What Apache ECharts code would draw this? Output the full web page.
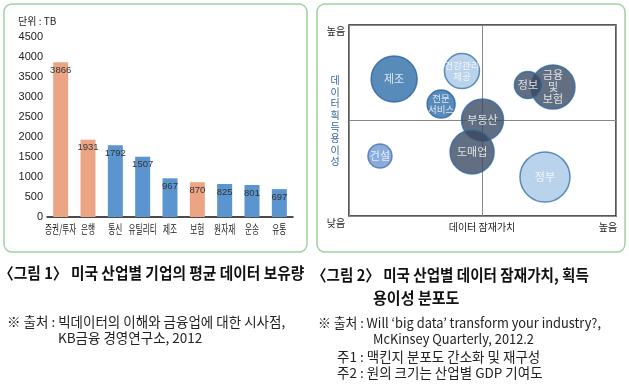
<!DOCTYPE html>
<html>
<head>
<meta charset="utf-8">
<script src="https://cdn.jsdelivr.net/npm/echarts@6/dist/echarts.min.js"></script>
<style>
html,body{margin:0;padding:0;background:#fff;}
#c{width:629px;height:385px;}
</style>
</head>
<body>
<div id="c"></div>
<script>
// ---- Figure 1 data ----
var categories = ['증권/투자','은행','통신','유틸리티','제조','보험','원자재','운송','유통'];
var values = [3866,1931,1792,1507,967,870,825,801,697];
var highlightIdx = [0,1,5]; // orange bars
var yTicks = {min:0, max:4500, interval:500};

// ---- Figure 2 data ----
var bubbleNames = ['제조','건강관리\n제공','전문\n서비스','부동산','도매업','금융\n및\n보험','정보','건설','정부'];
var bubbleX = [1.69,4.23,3.45,5.0,4.61,7.64,6.70,1.16,7.34];   // 데이터 잠재가치
var bubbleY = [7.17,7.59,5.86,5.03,3.35,6.75,6.86,3.14,2.04];  // 데이터 획득 용이성
var bubbleGDP = [46,35,28,42,44,44,27,24,50];                  // 원의 크기 (GDP 기여도)
var bubbleTone = ['mid','light','mid','dark','dark','dark','dark','soft','light'];

var ORANGE = '#eca584', BLUE = '#5b95d0';
var tones = {
  dark:  {fill:'#3b4a62', border:'#2f69a3'},
  mid:   {fill:'#2f6ea9', border:'#2a62a0'},
  light: {fill:'#a9c8e7', border:'#3c70aa'},
  soft:  {fill:'#6e98d3', border:'#4571b1'}
};

var barData = values.map(function(v,i){
  return {value:v, itemStyle:{color: highlightIdx.indexOf(i)>=0 ? ORANGE : BLUE}};
});
var bubbleData = bubbleNames.map(function(n,i){
  var t = tones[bubbleTone[i]];
  var longest = Math.max.apply(null, n.split('\n').map(function(s){return s.length;}));
  var fs = longest >= 3 && bubbleGDP[i] < 40 ? 9.5 : 11;
  return {name:n, value:[bubbleX[i], bubbleY[i]], symbolSize:bubbleGDP[i],
    itemStyle:{color:t.fill, borderColor:t.border, borderWidth:1.5},
    label:{fontSize:fs, lineHeight:fs+1}};
});

var KR = '"Noto Sans CJK KR", "Noto Sans", sans-serif';
function txt(x,y,s,opt){
  opt = opt||{};
  return {type:'text', x:x, y:y, scaleX:opt.sx||1, z:10,
    style:{text:s, fill:opt.color||'#222', font:(opt.weight||'normal')+' '+(opt.size||12)+'px '+KR,
      textAlign:opt.align||'left', textVerticalAlign:'middle', lineHeight:opt.lh}};
}

var chart = echarts.init(document.getElementById('c'), null, {renderer:'canvas'});
chart.setOption({
  animation:false,
  textStyle:{fontFamily:KR},
  grid:[
    {left:47, right:336, top:37, bottom:168},
    {left:349, right:13, top:25, bottom:169, show:true, borderColor:'#222', borderWidth:1.5, backgroundColor:'transparent'}
  ],
  xAxis:[
    {type:'category', gridIndex:0, data:categories,
      axisLine:{lineStyle:{color:'#111', width:1.5}}, axisTick:{show:false},
      axisLabel:{show:false}},
    {type:'value', gridIndex:1, min:0, max:10, interval:5,
      axisLine:{show:false}, axisTick:{show:false}, axisLabel:{show:false},
      splitLine:{show:true, lineStyle:{color:'#888', width:1}}}
  ],
  yAxis:[
    {type:'value', gridIndex:0, min:yTicks.min, max:yTicks.max, interval:yTicks.interval,
      axisLine:{show:false}, axisTick:{show:false}, splitLine:{show:false},
      axisLabel:{color:'#222', fontSize:11, margin:4, fontFamily:'"Liberation Sans", sans-serif',
        formatter:function(v){return String(v);}}},
    {type:'value', gridIndex:1, min:0, max:10, interval:5,
      axisLine:{show:false}, axisTick:{show:false}, axisLabel:{show:false},
      splitLine:{show:true, lineStyle:{color:'#888', width:1}}}
  ],
  series:[
    {type:'bar', xAxisIndex:0, yAxisIndex:0, data:barData, barWidth:15,
      label:{show:true, position:'insideTop', distance:3, color:'#333', fontSize:9.5,
        fontFamily:'"Liberation Sans Narrow", "Liberation Sans", sans-serif'}},
    {type:'scatter', xAxisIndex:1, yAxisIndex:1, data:bubbleData,
      emphasis:{disabled:true},
      label:{show:true, position:'inside', formatter:'{b}', color:'#fff', fontSize:11, lineHeight:11, fontFamily:KR}}
  ]
});

// condensed category labels placed through the axis scale
var catLabels = categories.map(function(c,i){
  var p = chart.convertToPixel({xAxisIndex:0, yAxisIndex:0}, [i, 0]);
  return txt(p[0], p[1]+12, c, {size:12, sx:0.64, align:'center', color:'#222'});
});

chart.setOption({
  graphic: [
    {type:'rect', shape:{x:4, y:4, width:303, height:248, r:8}, style:{fill:'none', stroke:'#9fd29f', lineWidth:1.5}},
    {type:'rect', shape:{x:317, y:4, width:308, height:248, r:8}, style:{fill:'none', stroke:'#9fd29f', lineWidth:1.5}},
    txt(18,21,'단위 : TB',{size:10}),
    txt(336,31,'높음',{size:10, align:'center'}),
    txt(336,223,'낮음',{size:10, align:'center'}),
    txt(482,227,'데이터 잠재가치',{size:10, align:'center'}),
    txt(608,227,'높음',{size:10, align:'center'}),
    txt(335,121,'데\n이\n터\n획\n득\n용\n이\n성',{size:10, align:'center', lh:11.6, color:'#3466a0'}),
    txt(-1,273,'〈그림 1〉 미국 산업별 기업의 평균 데이터 보유량',{size:15.5, weight:'bold', sx:0.95, color:'#111'}),
    txt(7,322,'※ 출처 : 빅데이터의 이해와 금융업에 대한 시사점,',{size:13.5, sx:1.0}),
    txt(58,338,'KB금융 경영연구소, 2012',{size:13.5, sx:1.0}),
    txt(312,275,'〈그림 2〉 미국 산업별 데이터 잠재가치, 획득',{size:15.5, weight:'bold', sx:0.94, color:'#111'}),
    txt(373,298,'용이성 분포도',{size:15.5, weight:'bold', sx:0.97, color:'#111'}),
    txt(318,323,'※ 출처 : Will ‘big data’ transform your industry?,',{size:13.5, sx:0.95}),
    txt(373,339,'McKinsey Quarterly, 2012.2',{size:13.5, sx:0.95}),
    txt(337,357,'주1 : 맥킨지 분포도 간소화 및 재구성',{size:13.5, sx:1.0}),
    txt(337,373,'주2 : 원의 크기는 산업별 GDP 기여도',{size:13.5, sx:1.0})
  ].concat(catLabels)
});
</script>
</body>
</html>
